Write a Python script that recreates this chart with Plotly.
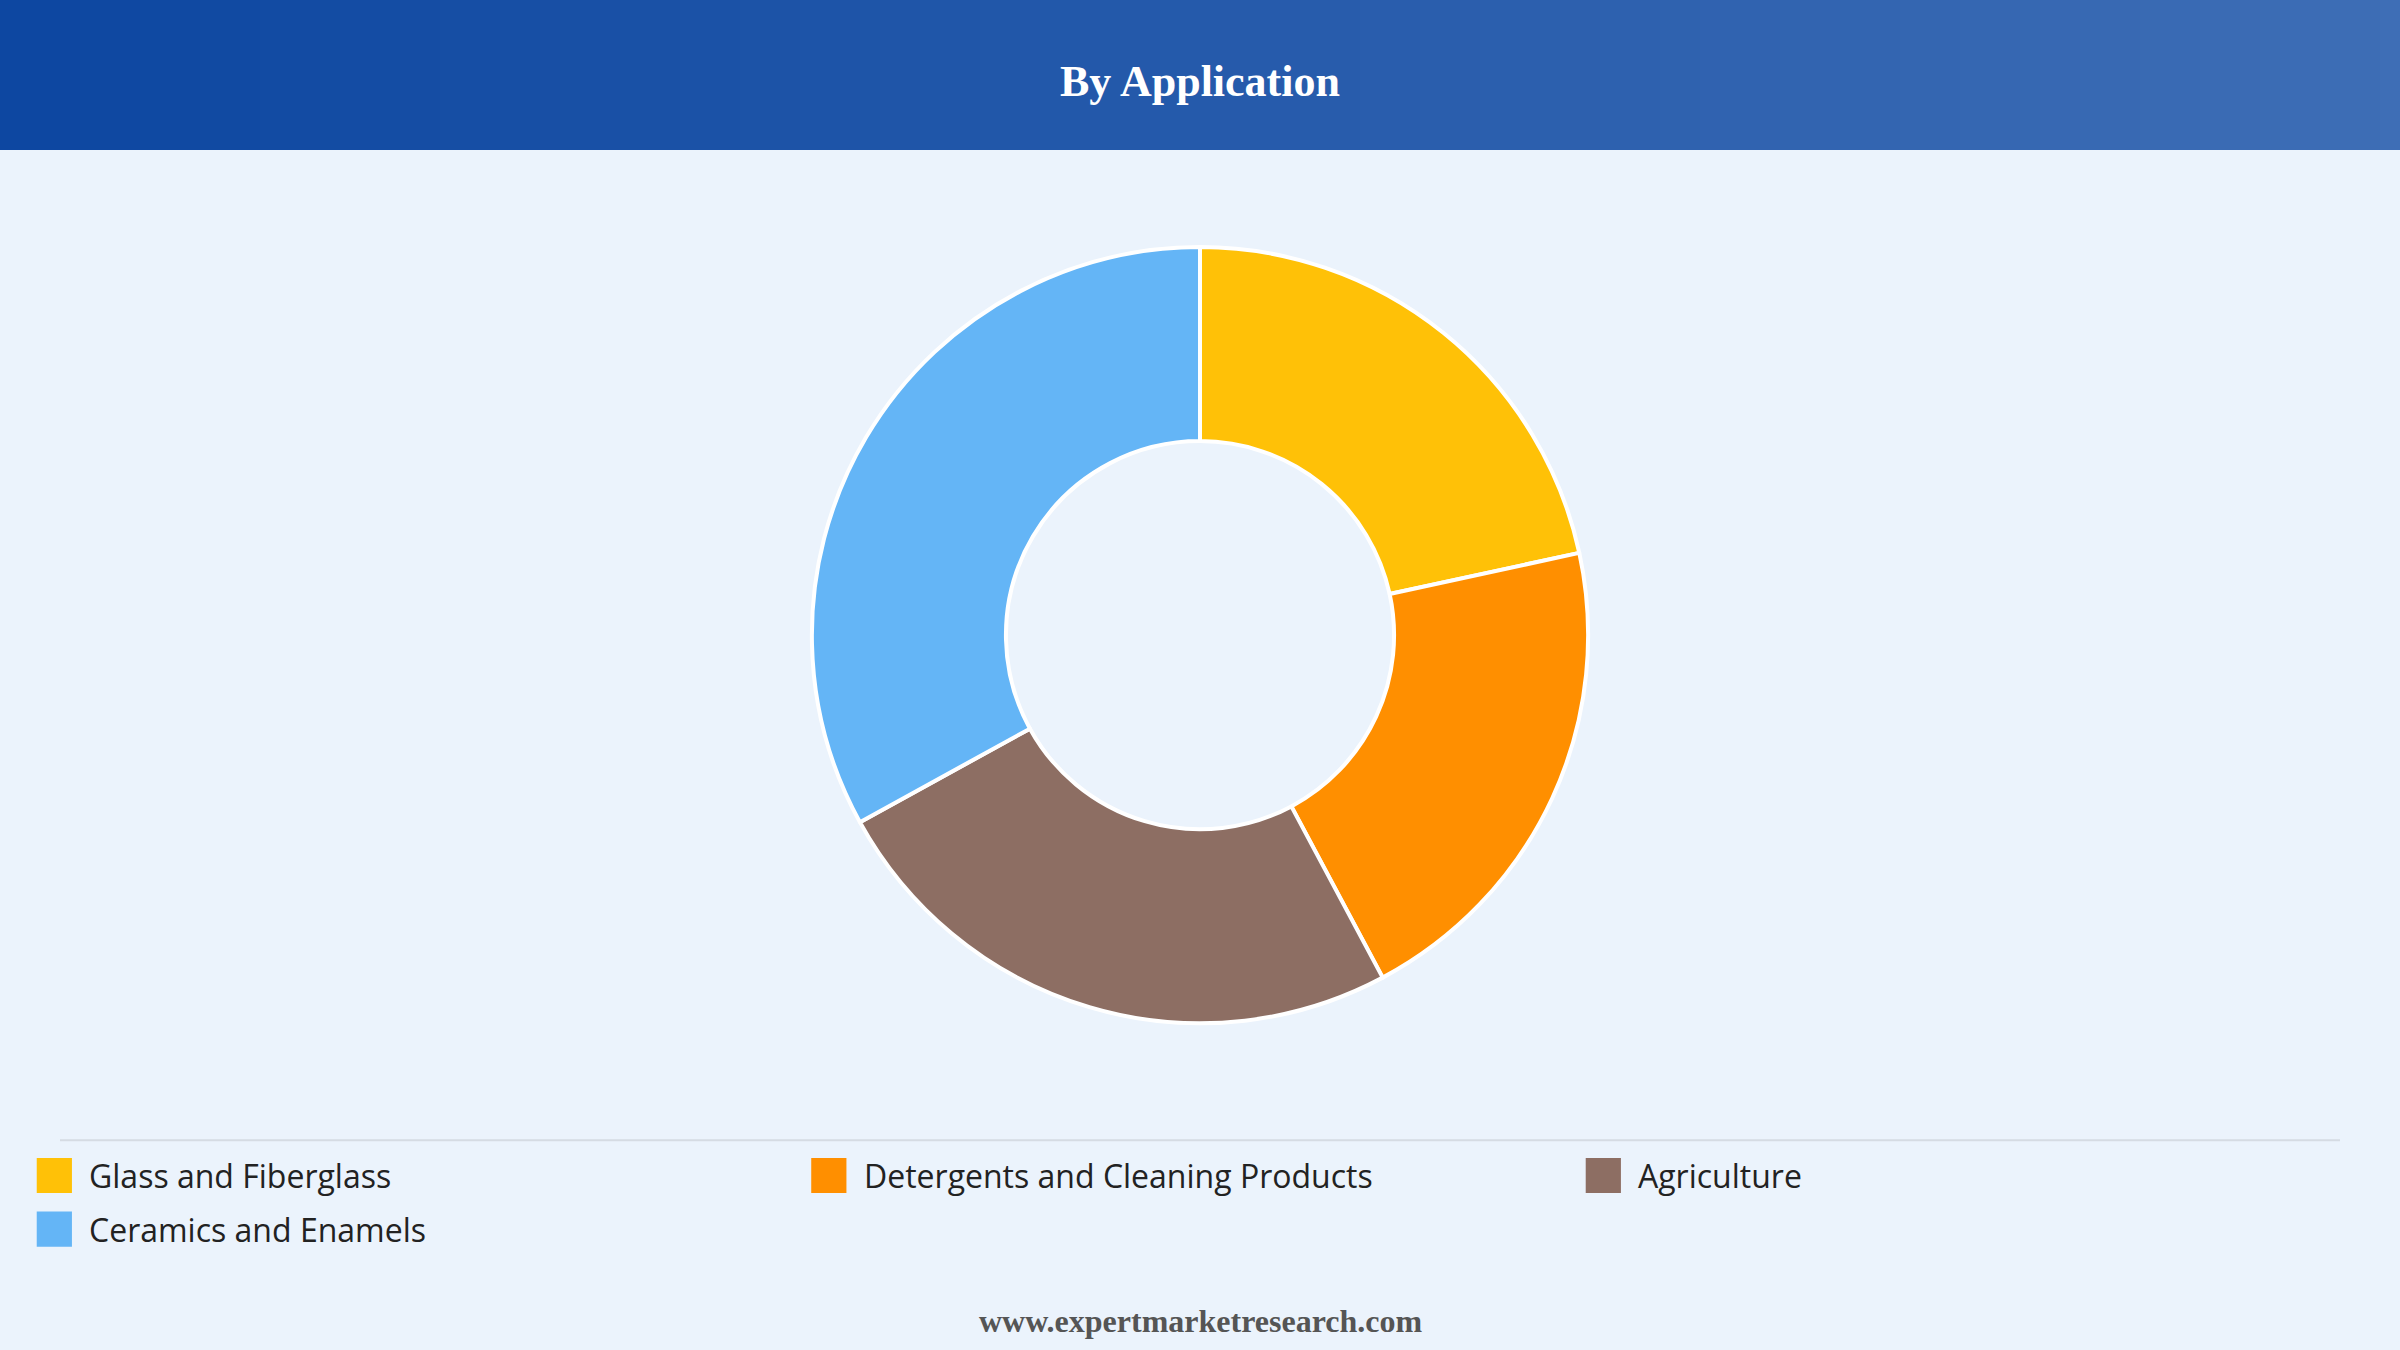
import plotly.graph_objects as go

# Application share of the market (%)
labels = ["Glass and Fiberglass", "Detergents and Cleaning Products", "Agriculture", "Ceramics and Enamels"]
values = [21.6, 20.6, 24.8, 33.0]
colors = ["#FFC107", "#FF8F00", "#8D6E63", "#64B5F6"]

W, H = 2400, 1350
S = W / 1568  # reference was measured at 1568 px width

fig = go.Figure()

fig.add_trace(go.Pie(
    labels=labels,
    values=values,
    hole=0.5,
    sort=False,
    direction="clockwise",
    rotation=0,
    marker=dict(colors=colors, line=dict(color="white", width=4)),
    textinfo="none",
    hoverinfo="label+percent",
    showlegend=False,
    domain=dict(x=[0.3, 0.7], y=[0.242, 0.817]),
))

# Header band with a left-to-right gradient built from thin strips
shapes = []
n = 120
c0 = (13, 71, 161)
c1 = (62, 110, 182)
for i in range(n):
    t = i / (n - 1)
    col = "rgb(%d,%d,%d)" % tuple(int(a + (b - a) * t) for a, b in zip(c0, c1))
    shapes.append(dict(type="rect", xref="paper", yref="paper",
                       x0=i / n, x1=(i + 1) / n + 0.001, y0=1 - 98 / 882, y1=1,
                       fillcolor=col, line=dict(width=0), layer="below"))

# Separator above the legend
shapes.append(dict(type="line", xref="paper", yref="paper",
                   x0=0.025, x1=0.975, y0=1 - 745 / 882, y1=1 - 745 / 882,
                   line=dict(color="#d5dbe3", width=2)))

annotations = [
    dict(text="<b>By Application</b>", xref="paper", yref="paper",
         x=0.5, y=1 - 53 / 882, yanchor="middle", showarrow=False,
         font=dict(family="Liberation Serif", size=44, color="white")),
    dict(text="<b>www.expertmarketresearch.com</b>", xref="paper", yref="paper",
         x=0.5, y=1 - 863 / 882, yanchor="middle", showarrow=False,
         font=dict(family="Liberation Serif", size=32, color="#555555")),
]

# Legend drawn by hand: 3 columns, large swatches
sw = 23 * S
for i, (lab, col) in enumerate(zip(labels, colors)):
    cx = [24, 530, 1036][i % 3] * S
    cy = (768 + 35 * (i // 3)) * S
    shapes.append(dict(type="rect", xref="paper", yref="paper",
                       x0=cx / W, x1=(cx + sw) / W,
                       y0=1 - (cy + sw / 2) / H, y1=1 - (cy - sw / 2) / H,
                       fillcolor=col, line=dict(width=0)))
    annotations.append(dict(text=lab, xref="paper", yref="paper",
                            x=(cx + 33 * S) / W, y=1 - cy / H,
                            xanchor="left", yanchor="middle", showarrow=False,
                            font=dict(family="Open Sans", size=32, color="#222222")))

fig.update_layout(
    width=W,
    height=H,
    margin=dict(l=0, r=0, t=0, b=0),
    paper_bgcolor="#EBF3FC",
    plot_bgcolor="#EBF3FC",
    shapes=shapes,
    annotations=annotations,
    showlegend=False,
)

fig.write_html("out.html", config={"displayModeBar": False},
               post_script="document.body.style.margin='0';")
